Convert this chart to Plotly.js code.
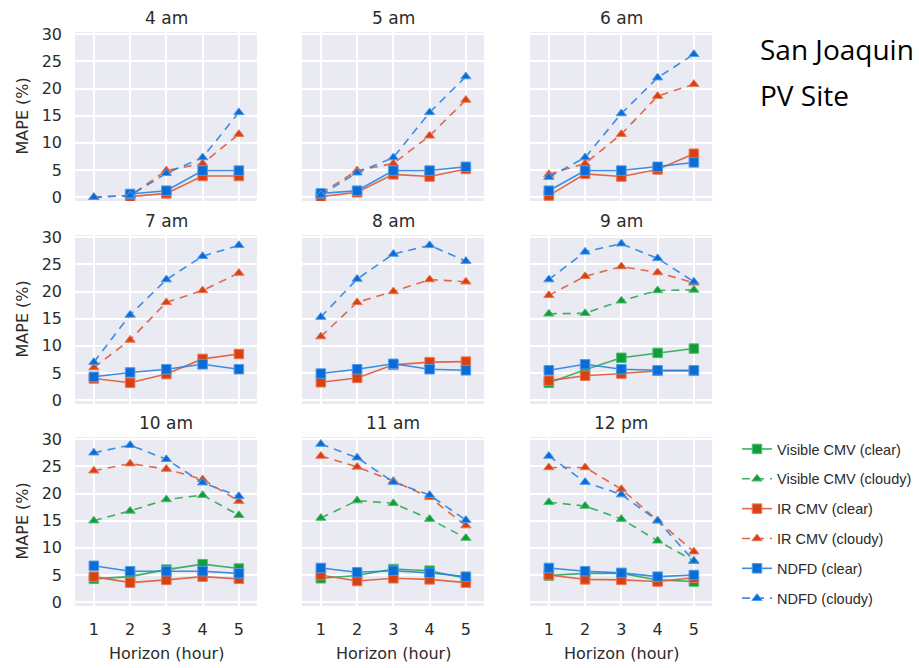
<!DOCTYPE html>
<html>
<head>
<meta charset="utf-8">
<script src="https://cdn.plot.ly/plotly-3.0.1.min.js"></script>
<style>html,body{margin:0;padding:0;background:#fff;}#chart{width:919px;height:668px;}</style>
</head>
<body>
<div id="chart"></div>
<script>
// ---- data ----
const hours = ['4 am', '5 am', '6 am', '7 am', '8 am', '9 am', '10 am', '11 am', '12 pm'];
const horizon = [1, 2, 3, 4, 5];
const xTickLabels = ['1', '2', '3', '4', '5'];
const yTickVals = [0, 5, 10, 15, 20, 25, 30];
const seriesNames = ['Visible CMV (clear)', 'Visible CMV (cloudy)', 'IR CMV (clear)', 'IR CMV (cloudy)', 'NDFD (clear)', 'NDFD (cloudy)'];

const visClear = [
  [null, null, null, null, null],
  [null, null, null, null, null],
  [null, null, null, null, null],
  [null, null, null, null, null],
  [null, null, null, null, null],
  [3.2, 5.6, 7.8, 8.7, 9.5],
  [4.3, 4.7, 6.0, 7.0, 6.2],
  [4.4, 4.9, 6.1, 5.8, 4.4],
  [4.9, 5.3, 5.3, 4.1, 3.8]
];
const visCloudy = [
  [null, null, null, null, null],
  [null, null, null, null, null],
  [null, null, null, null, null],
  [null, null, null, null, null],
  [null, null, null, null, null],
  [15.9, 16.0, 18.3, 20.2, 20.3],
  [15.0, 16.8, 18.9, 19.7, 16.0],
  [15.5, 18.7, 18.2, 15.3, 11.8],
  [18.4, 17.7, 15.3, 11.3, 7.6]
];
const irClear = [
  [null, 0.1, 0.7, 3.9, 3.9],
  [0.1, 0.9, 4.2, 3.8, 5.2],
  [0.3, 4.3, 3.8, 5.1, 8.0],
  [4.0, 3.2, 4.8, 7.6, 8.5],
  [3.3, 4.1, 6.5, 7.0, 7.1],
  [3.6, 4.5, 4.9, 5.4, 5.4],
  [4.7, 3.6, 4.1, 4.7, 4.3],
  [5.0, 3.9, 4.4, 4.2, 3.6],
  [5.0, 4.2, 4.1, 3.8, 4.5]
];
const irCloudy = [
  [0.0, 0.3, 4.9, 6.2, 11.6],
  [0.7, 4.9, 6.2, 11.3, 17.9],
  [4.2, 6.2, 11.6, 18.6, 20.8],
  [6.0, 11.1, 18.0, 20.2, 23.4],
  [11.7, 18.0, 20.0, 22.2, 21.8],
  [19.3, 22.8, 24.6, 23.5, 21.6],
  [24.2, 25.5, 24.5, 22.6, 18.6],
  [26.9, 24.9, 22.3, 19.3, 14.1],
  [24.8, 24.8, 20.8, 15.0, 9.3]
];
const ndfdClear = [
  [null, 0.6, 1.2, 4.9, 4.9],
  [0.7, 1.2, 4.9, 4.9, 5.6],
  [1.2, 4.9, 4.9, 5.6, 6.4],
  [4.3, 5.1, 5.7, 6.6, 5.7],
  [4.9, 5.7, 6.7, 5.7, 5.5],
  [5.5, 6.6, 5.7, 5.5, 5.5],
  [6.7, 5.7, 5.7, 5.7, 5.3],
  [6.3, 5.5, 5.8, 5.4, 4.7],
  [6.3, 5.7, 5.4, 4.7, 5.0]
];
const ndfdCloudy = [
  [0.0, 0.3, 4.4, 7.3, 15.6],
  [0.4, 4.5, 7.3, 15.6, 22.2],
  [3.7, 7.3, 15.4, 22.0, 26.3],
  [7.0, 15.7, 22.2, 26.5, 28.5],
  [15.3, 22.3, 26.9, 28.5, 25.6],
  [22.2, 27.3, 28.8, 26.1, 21.8],
  [27.5, 28.9, 26.3, 22.0, 19.5],
  [29.1, 26.6, 22.1, 19.7, 15.1],
  [26.9, 22.1, 19.8, 15.0, 7.6]
];

// ---- styles ----
const W = 919, H = 668;
const colLeft = [75, 302, 530], colW = 182;
const rowTop = [32, 235, 437], rowH = 169;
const markerCol = {vis: 'rgb(16,158,58)', ir: 'rgb(216,66,16)', ndfd: 'rgb(10,108,214)'};
const lineCol = {vis: 'rgba(40,170,85,0.9)', ir: 'rgba(222,90,55,0.9)', ndfd: 'rgba(40,130,225,0.9)'};
const edgeCol = {vis: 'rgb(80,190,115)', ir: 'rgb(235,120,90)', ndfd: 'rgb(80,155,235)'};
const tickFont = {family: 'DejaVu Sans', size: 16, color: '#2b2b2b'};

const seriesDefs = [
  {data: visClear, key: 'vis', cloudy: false},
  {data: visCloudy, key: 'vis', cloudy: true},
  {data: irClear, key: 'ir', cloudy: false},
  {data: irCloudy, key: 'ir', cloudy: true},
  {data: ndfdClear, key: 'ndfd', cloudy: false},
  {data: ndfdCloudy, key: 'ndfd', cloudy: true}
];

const traces = [];
const layout = {
  width: W, height: H,
  margin: {l: 0, r: 0, t: 0, b: 0},
  paper_bgcolor: '#ffffff',
  plot_bgcolor: '#EAEAF2',
  showlegend: true,
  legend: {
    x: 737 / W, xanchor: 'left',
    y: 1 - 433 / H, yanchor: 'top',
    font: {family: 'Liberation Sans', size: 14.5, color: '#2b2b2b'},
    tracegroupgap: 8,
    bgcolor: 'rgba(0,0,0,0)'
  },
  annotations: []
};

hours.forEach((h, i) => {
  const r = Math.floor(i / 3), c = i % 3;
  const sfx = i === 0 ? '' : String(i + 1);
  const xa = 'x' + sfx, ya = 'y' + sfx;
  layout['xaxis' + sfx] = {
    domain: [colLeft[c] / W, (colLeft[c] + colW) / W],
    anchor: ya,
    range: [0.48, 5.5],
    tickvals: horizon, ticktext: xTickLabels,
    showticklabels: r === 2,
    ticks: '', ticklabelstandoff: 12,
    tickfont: tickFont,
    showgrid: true, gridcolor: '#ffffff', gridwidth: 2,
    zeroline: false, showline: false, fixedrange: true
  };
  layout['yaxis' + sfx] = {
    domain: [1 - (rowTop[r] + rowH) / H, 1 - rowTop[r] / H],
    anchor: xa,
    range: [-0.7, 30.4],
    tickvals: yTickVals,
    showticklabels: c === 0,
    ticks: '', ticklabelstandoff: 12,
    tickfont: tickFont,
    showgrid: true, gridcolor: '#ffffff', gridwidth: 2,
    zeroline: false, showline: false, fixedrange: true
  };
  // subplot title
  layout.annotations.push({
    text: h, xref: 'paper', yref: 'paper',
    x: (colLeft[c] + colW / 2) / W, y: 1 - (rowTop[r] - 14) / H,
    xanchor: 'center', yanchor: 'middle', showarrow: false,
    font: {family: 'DejaVu Sans', size: 17, color: '#2b2b2b'}
  });
  seriesDefs.forEach((s, k) => {
    traces.push({
      type: 'scatter', mode: 'lines+markers',
      x: horizon, y: s.data[i],
      xaxis: xa, yaxis: ya,
      name: seriesNames[k],
      legendgroup: seriesNames[k],
      showlegend: i === 5,
      connectgaps: false,
      line: {color: lineCol[s.key], width: 1.6, dash: s.cloudy ? '8px,6px' : 'solid'},
      marker: {
        symbol: s.cloudy ? 'triangle-up' : 'square',
        size: s.cloudy ? 9 : 9.5,
        color: markerCol[s.key],
        line: {color: edgeCol[s.key], width: 1}
      },
      hoverinfo: 'x+y+name'
    });
  });
});

// axis titles
for (let r = 0; r < 3; r++) {
  layout.annotations.push({
    text: 'MAPE (%)', xref: 'paper', yref: 'paper',
    x: 22 / W, y: 1 - (rowTop[r] + rowH / 2) / H,
    xanchor: 'center', yanchor: 'middle', textangle: -90, showarrow: false,
    font: {family: 'DejaVu Sans', size: 16, color: '#2b2b2b'}
  });
}
for (let c = 0; c < 3; c++) {
  layout.annotations.push({
    text: 'Horizon (hour)', xref: 'paper', yref: 'paper',
    x: (colLeft[c] + colW / 2) / W, y: 1 - 653 / H,
    xanchor: 'center', yanchor: 'middle', showarrow: false,
    font: {family: 'DejaVu Sans', size: 16, color: '#2b2b2b'}
  });
}
// site label
layout.annotations.push({
  text: 'San Joaquin', xref: 'paper', yref: 'paper',
  x: 758 / W, y: 1 - 49 / H, xanchor: 'left', yanchor: 'middle', showarrow: false,
  font: {family: 'Open Sans', size: 28, color: '#000000'}
});
layout.annotations.push({
  text: 'PV Site', xref: 'paper', yref: 'paper',
  x: 758 / W, y: 1 - 95 / H, xanchor: 'left', yanchor: 'middle', showarrow: false,
  font: {family: 'Open Sans', size: 28, color: '#000000'}
});

Plotly.newPlot('chart', traces, layout, {displayModeBar: false, staticPlot: true});
</script>
</body>
</html>
